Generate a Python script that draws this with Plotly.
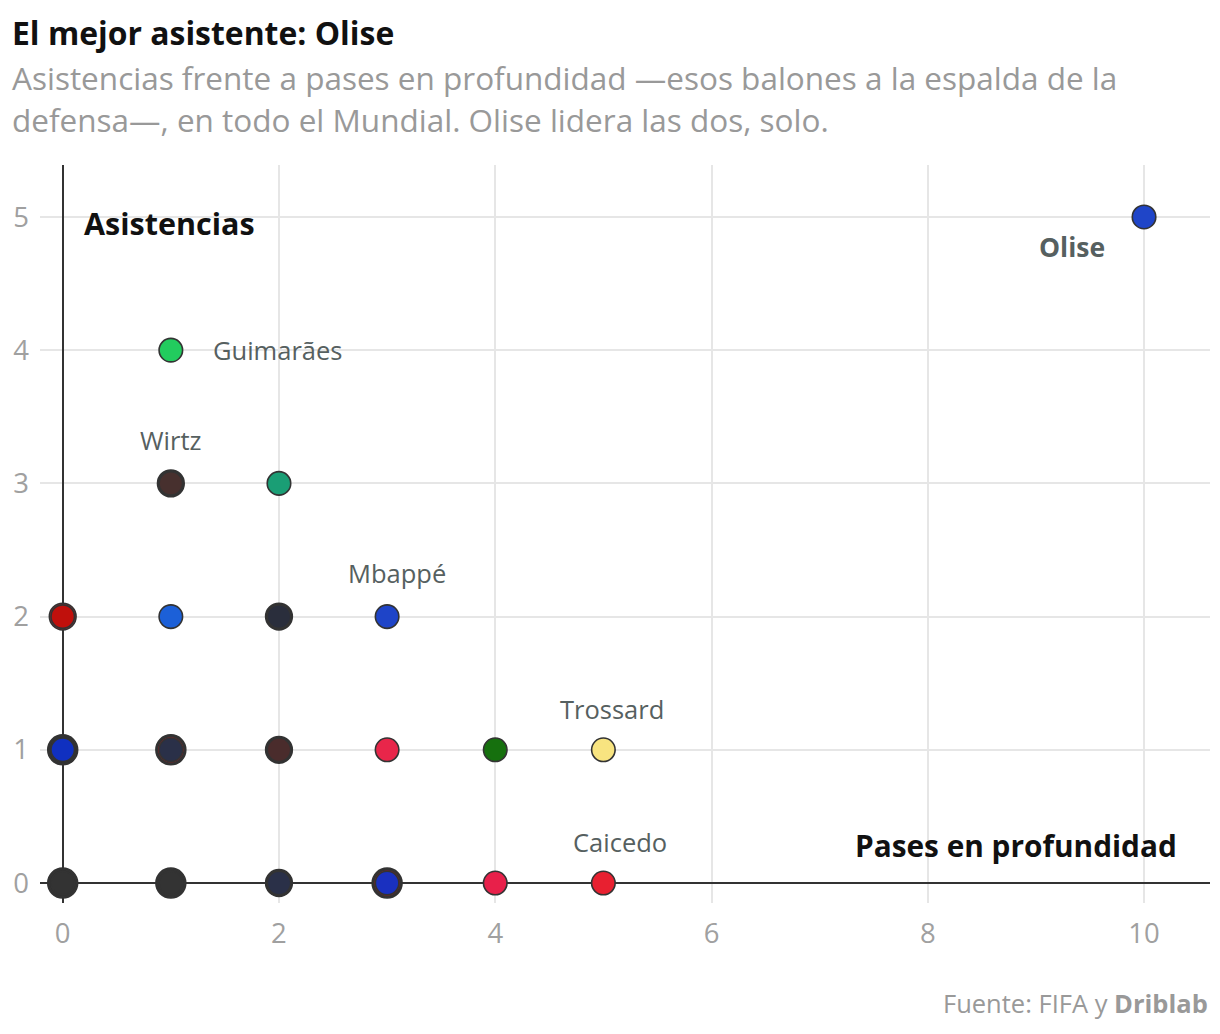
import plotly.graph_objects as go
from collections import defaultdict

# ---- data: pases en profundidad (x) vs asistencias (y), one entry per player ----
pases = [10, 1, 1, 1, 2,
         0, 0, 1, 2, 2, 3,
         0, 0, 0, 1, 1, 1, 2, 2, 3, 4, 5,
         0, 0, 0, 1, 1, 1, 2, 2, 3, 3, 3, 4, 5]
asistencias = [5, 4, 3, 3, 3,
               2, 2, 2, 2, 2, 2,
               1, 1, 1, 1, 1, 1, 1, 1, 1, 1, 1,
               0, 0, 0, 0, 0, 0, 0, 0, 0, 0, 0, 0, 0]
team_colors = ["#1f45c8", "#22cc5e", "#333333", "#47302e", "#1a9e75",
               "#d3202c", "#c0100c", "#1c60d8", "#333333", "#2a2e3c", "#1e44c8",
               "#333333", "#333333", "#1030c0", "#333333", "#c01020", "#2a3048", "#333333", "#4a2c2c", "#e8264a", "#16700e", "#f8e480",
               "#333333", "#2e2e2e", "#333333", "#333333", "#333333", "#333333", "#333333", "#2a3048", "#333333", "#c01020", "#1a30c0", "#e8204a", "#e82030"]

label_names = ["Olise", "Guimarães", "Wirtz", "Mbappé", "Trossard", "Caicedo"]
label_x = [10, 1, 1, 3, 5, 5]
label_y = [5, 4, 3, 2, 1, 0]

x_ticks = [0, 2, 4, 6, 8, 10]
y_ticks = [0, 1, 2, 3, 4, 5]

# ---- stacked marker sizes: players sharing a spot are drawn as concentric rings ----
groups = defaultdict(list)
for i, (px, py_) in enumerate(zip(pases, asistencias)):
    groups[(px, py_)].append(i)
sizes = [0] * len(pases)
for key, idxs in groups.items():
    n = len(idxs)
    for k, i in enumerate(idxs):
        sizes[i] = 23.5 + 3.2 * (n - 1 - k)

FONT = "Open Sans"
LABEL_C = "#566060"
fig = go.Figure()
fig.add_trace(go.Scatter(
    x=pases, y=asistencias, mode="markers",
    marker=dict(size=sizes, color=team_colors, opacity=1,
                line=dict(color="#333333", width=1.6)),
    hoverinfo="skip", showlegend=False,
))

# player labels
offsets = {
    "Olise": dict(xshift=-72, yshift=-30, xanchor="center", bold=True, size=26.5),
    "Guimarães": dict(xshift=40, yshift=0, xanchor="left", bold=False, size=25.5),
    "Wirtz": dict(xshift=0, yshift=43, xanchor="center", bold=False, size=25.5),
    "Mbappé": dict(xshift=10, yshift=44, xanchor="center", bold=False, size=25.5),
    "Trossard": dict(xshift=9, yshift=41, xanchor="center", bold=False, size=25.5),
    "Caicedo": dict(xshift=17, yshift=41, xanchor="center", bold=False, size=25.5),
}
for name, lx, ly in zip(label_names, label_x, label_y):
    o = offsets[name]
    fig.add_annotation(x=lx, y=ly, xref="x", yref="y",
                       text=f"<b>{name}</b>" if o["bold"] else name,
                       showarrow=False, xshift=o["xshift"], yshift=o["yshift"],
                       xanchor=o["xanchor"], yanchor="middle",
                       font=dict(family=FONT, size=o["size"], color=LABEL_C))

# axis titles inside plot
fig.add_annotation(x=0.176, y=4.955, xref="x", yref="y", text="<b>Asistencias</b>",
                   showarrow=False, xanchor="left", yanchor="middle",
                   font=dict(family=FONT, size=30.5, color="#111111"))
fig.add_annotation(x=10.32, y=0.285, xref="x", yref="y", text="<b>Pases en profundidad</b>",
                   showarrow=False, xanchor="right", yanchor="middle",
                   font=dict(family=FONT, size=29.8, color="#111111"))

# title, subtitle, source
PB, PH, PL, PW = 903, 738, 40, 1170
def py(p):
    return (PB - p) / PH
def pxp(p):
    return (p - PL) / PW

fig.add_annotation(x=pxp(10), y=py(33), xref="paper", yref="paper",
                   text="<b>El mejor asistente: Olise</b>", showarrow=False,
                   xanchor="left", yanchor="middle",
                   font=dict(family=FONT, size=31.9, color="#111111"))
fig.add_annotation(x=pxp(10), y=py(77), xref="paper", yref="paper",
                   text="Asistencias frente a pases en profundidad —esos balones a la espalda de la",
                   showarrow=False, xanchor="left", yanchor="middle",
                   font=dict(family=FONT, size=31.5, color="#999999"))
fig.add_annotation(x=pxp(10), y=py(120), xref="paper", yref="paper",
                   text="defensa—, en todo el Mundial. Olise lidera las dos, solo.",
                   showarrow=False, xanchor="left", yanchor="middle",
                   font=dict(family=FONT, size=31.5, color="#999999"))
fig.add_annotation(x=1, y=py(1003), xref="paper", yref="paper",
                   text="Fuente: FIFA y <b>Driblab</b>",
                   showarrow=False, xanchor="right", yanchor="middle",
                   font=dict(family=FONT, size=25.5, color="#999999"))

fig.update_layout(
    width=1220, height=1034,
    margin=dict(l=40, r=10, t=165, b=131),
    paper_bgcolor="white", plot_bgcolor="white",
    font=dict(family=FONT),
)
fig.update_xaxes(range=[-0.21, 10.61], tickvals=x_ticks, ticktext=[str(v) for v in x_ticks],
                 showgrid=True, gridcolor="#e6e6e6", gridwidth=1.5,
                 zeroline=True, zerolinecolor="#333333", zerolinewidth=1.5,
                 showline=False, ticks="", ticklabelstandoff=11,
                 tickfont=dict(family=FONT, size=27.5, color="#a0a0a0"))
fig.update_yaxes(range=[-0.15, 5.39], tickvals=y_ticks, ticktext=[str(v) for v in y_ticks],
                 showgrid=True, gridcolor="#e6e6e6", gridwidth=1.5,
                 zeroline=True, zerolinecolor="#333333", zerolinewidth=1.5,
                 showline=False, ticks="", ticklabelstandoff=10,
                 tickfont=dict(family=FONT, size=27.5, color="#a0a0a0"))

fig.write_html("out.html")
